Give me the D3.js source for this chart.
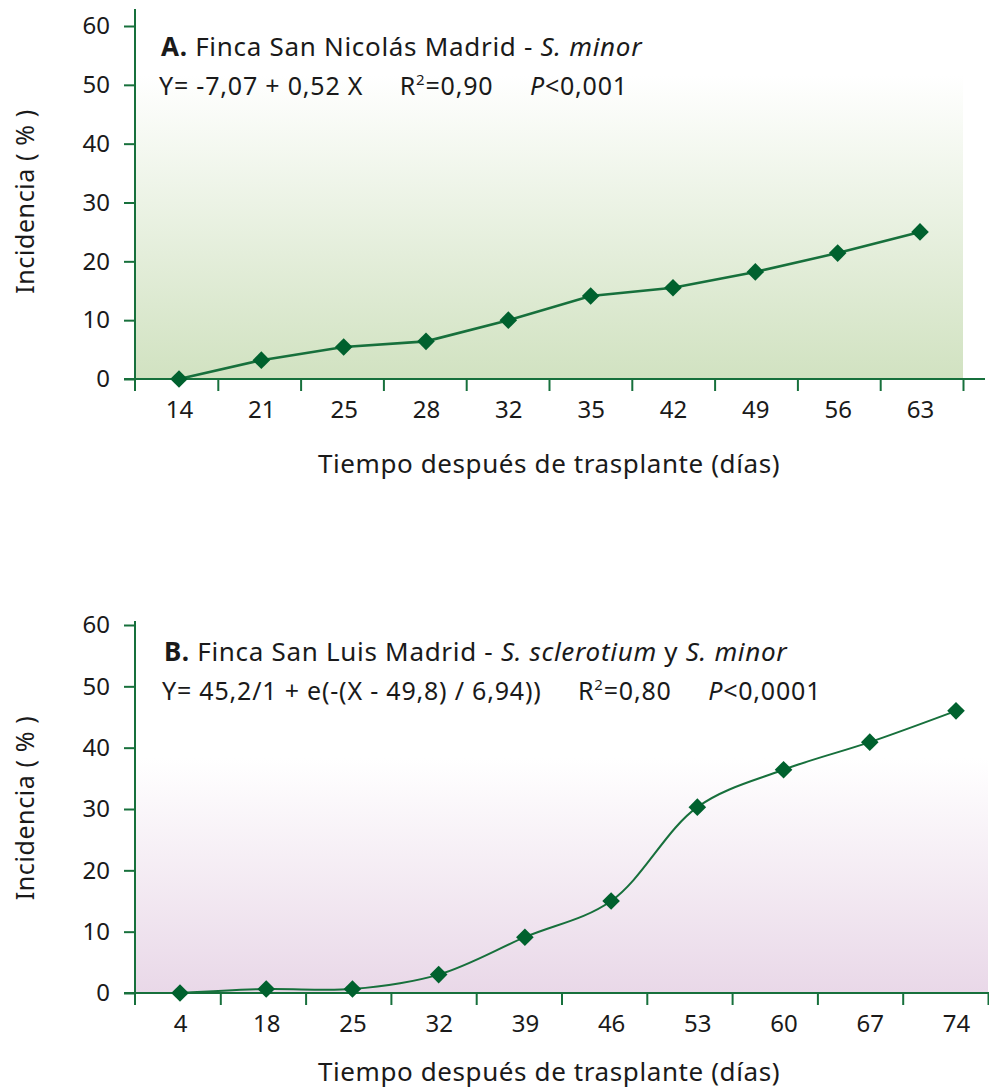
<!DOCTYPE html>
<html>
<head>
<meta charset="utf-8">
<script src="https://cdn.jsdelivr.net/npm/d3@7"></script>
<style>
  body { margin: 0; background: #fff; }
  svg text { font-family: "Noto Sans", sans-serif; fill: #1a1a1a; }
</style>
</head>
<body>
<div id="chart"></div>
<script>
// panel A data
var daysA = ["14", "21", "25", "28", "32", "35", "42", "49", "56", "63"];
var incidA = [0, 3.2, 5.45, 6.4, 10, 14.1, 15.5, 18.2, 21.4, 25];

// panel B data
var daysB = ["4", "18", "25", "32", "39", "46", "53", "60", "67", "74"];
var incidB = [0, 0.65, 0.65, 3.0, 9.1, 15, 30.3, 36.4, 40.9, 46];

var yTicks = [0, 10, 20, 30, 40, 50, 60];

var axisColor = "#17703c";
var markColor = "#00612e";

var svg = d3.select("#chart").append("svg")
    .attr("width", 989)
    .attr("height", 1089);

var defs = svg.append("defs");

function makeGrad(id, color, whiteTo) {
    var g = defs.append("linearGradient")
        .attr("id", id)
        .attr("x1", 0).attr("y1", 0)
        .attr("x2", 0).attr("y2", 1);
    g.append("stop").attr("offset", "0%").attr("stop-color", "#ffffff");
    g.append("stop").attr("offset", whiteTo).attr("stop-color", "#ffffff");
    g.append("stop").attr("offset", "100%").attr("stop-color", color);
}
makeGrad("gradA", "#d1e2c1", "14%");
makeGrad("gradB", "#e9d8e8", "36%");

/**
 * draws one panel
 */
function drawPanel(cfg) {
    // points sit on their own positions, ticks on the band edges
    var x = d3.scalePoint()
        .domain(cfg.cats)
        .range(cfg.pointRange);
    var y = d3.scaleLinear()
        .domain([0, 60])
        .range([cfg.bottom, cfg.top]);

    var g = svg.append("g");

    // background
    g.append("rect")
        .attr("x", cfg.left)
        .attr("y", y(60))
        .attr("width", cfg.right - cfg.left)
        .attr("height", y(0) - y(60))
        .attr("fill", "url(#" + cfg.grad + ")");

    // y axis
    var yAxis = g.append("g")
        .attr("transform", "translate(" + cfg.left + ",0)")
        .call(d3.axisLeft(y).tickValues(yTicks).tickSize(11).tickPadding(14));
    yAxis.select(".domain").remove();
    yAxis.selectAll(".tick line").attr("stroke", axisColor).attr("stroke-width", 2);
    yAxis.selectAll("text").style("font-size", "24px").attr("fill", "#1a1a1a");
    g.append("line")
        .attr("x1", cfg.left).attr("x2", cfg.left)
        .attr("y1", cfg.yTop).attr("y2", y(0) + 12)
        .attr("stroke", axisColor).attr("stroke-width", 2);

    // x axis labels
    var xAxis = g.append("g")
        .attr("transform", "translate(0," + y(0) + ")")
        .call(d3.axisBottom(x).tickSize(0).tickPadding(22));
    xAxis.select(".domain").remove();
    xAxis.selectAll("text").style("font-size", "24px").attr("fill", "#1a1a1a");

    var edges = d3.scaleLinear().domain([0, cfg.cats.length]).range([cfg.left, cfg.right]);
    var xTicks = g.append("g")
        .attr("transform", "translate(0," + y(0) + ")")
        .call(d3.axisBottom(edges).tickValues(d3.range(1, cfg.cats.length + 1)).tickSize(12).tickFormat(""));
    xTicks.select(".domain").remove();
    xTicks.selectAll(".tick line").attr("stroke", axisColor).attr("stroke-width", 2);

    g.append("line")
        .attr("x1", cfg.left - 11).attr("x2", cfg.axisEnd)
        .attr("y1", y(0)).attr("y2", y(0))
        .attr("stroke", axisColor).attr("stroke-width", 2);

    // line
    var pts = cfg.cats.map(function(c, i) { return [x(c), y(cfg.vals[i])]; });
    var line = d3.line().curve(cfg.curve);
    g.append("path")
        .attr("d", line(pts))
        .attr("fill", "none")
        .attr("stroke", axisColor)
        .attr("stroke-width", cfg.lineW);

    g.selectAll(".mark")
        .data(pts)
        .enter().append("path")
        .attr("class", "mark")
        .attr("d", d3.symbol().type(d3.symbolSquare).size(155))
        .attr("transform", function(d) { return "translate(" + d[0] + "," + d[1] + ") rotate(45)"; })
        .attr("fill", markColor);

    // axis titles
    g.append("text")
        .attr("transform", "translate(" + 34 + "," + ((y(0) + y(60)) / 2 - 1) + ") rotate(-90)")
        .attr("text-anchor", "middle")
        .style("font-size", "25px")
        .style("letter-spacing", "0.6px")
        .text("Incidencia ( % )");

    g.append("text")
        .attr("x", 549)
        .attr("y", cfg.xTitleY)
        .attr("text-anchor", "middle")
        .style("font-size", "26px")
        .style("letter-spacing", "0.6px")
        .text("Tiempo después de trasplante (días)");

    // annotations
    var t1 = g.append("text")
        .attr("x", cfg.noteX)
        .attr("y", cfg.noteY)
        .style("font-size", "26px")
        .style("letter-spacing", "0.7px");
    cfg.title.forEach(function(p) {
        t1.append("tspan")
            .style("font-weight", p.b ? "bold" : null)
            .style("font-style", p.i ? "italic" : null)
            .text(p.t);
    });

    var t2 = g.append("text")
        .attr("x", cfg.noteX - 2)
        .attr("y", cfg.noteY + 39)
        .attr("xml:space", "preserve")
        .style("font-size", "25px")
        .style("letter-spacing", "0.8px");
    cfg.eq.forEach(function(p) {
        var s = t2.append("tspan").text(p.t);
        if (p.i) s.style("font-style", "italic");
        if (p.sup) s.style("font-size", "15px").attr("dy", -10);
        if (p.down) s.attr("dy", 10);
    });
}

drawPanel({
    cats: daysA, vals: incidA,
    left: 135, right: 963, axisEnd: 985,
    pointRange: [179, 920],
    top: 26, bottom: 379, yTop: 9,
    grad: "gradA",
    curve: d3.curveLinear, lineW: 2.6,
    xTitleY: 473,
    noteX: 161, noteY: 56,
    title: [{t: "A.", b: true}, {t: " Finca San Nicolás Madrid - "}, {t: "S. minor", i: true}],
    eq: [{t: "Y= -7,07 + 0,52 X     R"}, {t: "2", sup: true}, {t: "=0,90     ", down: true}, {t: "P", i: true}, {t: "<0,001"}]
});

drawPanel({
    cats: daysB, vals: incidB,
    left: 135, right: 988, axisEnd: 989,
    pointRange: [180, 956],
    top: 625, bottom: 993, yTop: 621,
    grad: "gradB",
    curve: d3.curveCatmullRom, lineW: 2,
    xTitleY: 1081,
    noteX: 164, noteY: 661,
    title: [{t: "B.", b: true}, {t: " Finca San Luis Madrid - "}, {t: "S. sclerotium", i: true}, {t: " y "}, {t: "S. minor", i: true}],
    eq: [{t: "Y= 45,2/1 + e(-(X - 49,8) / 6,94))     R"}, {t: "2", sup: true}, {t: "=0,80     ", down: true}, {t: "P", i: true}, {t: "<0,0001"}]
});
</script>
</body>
</html>
